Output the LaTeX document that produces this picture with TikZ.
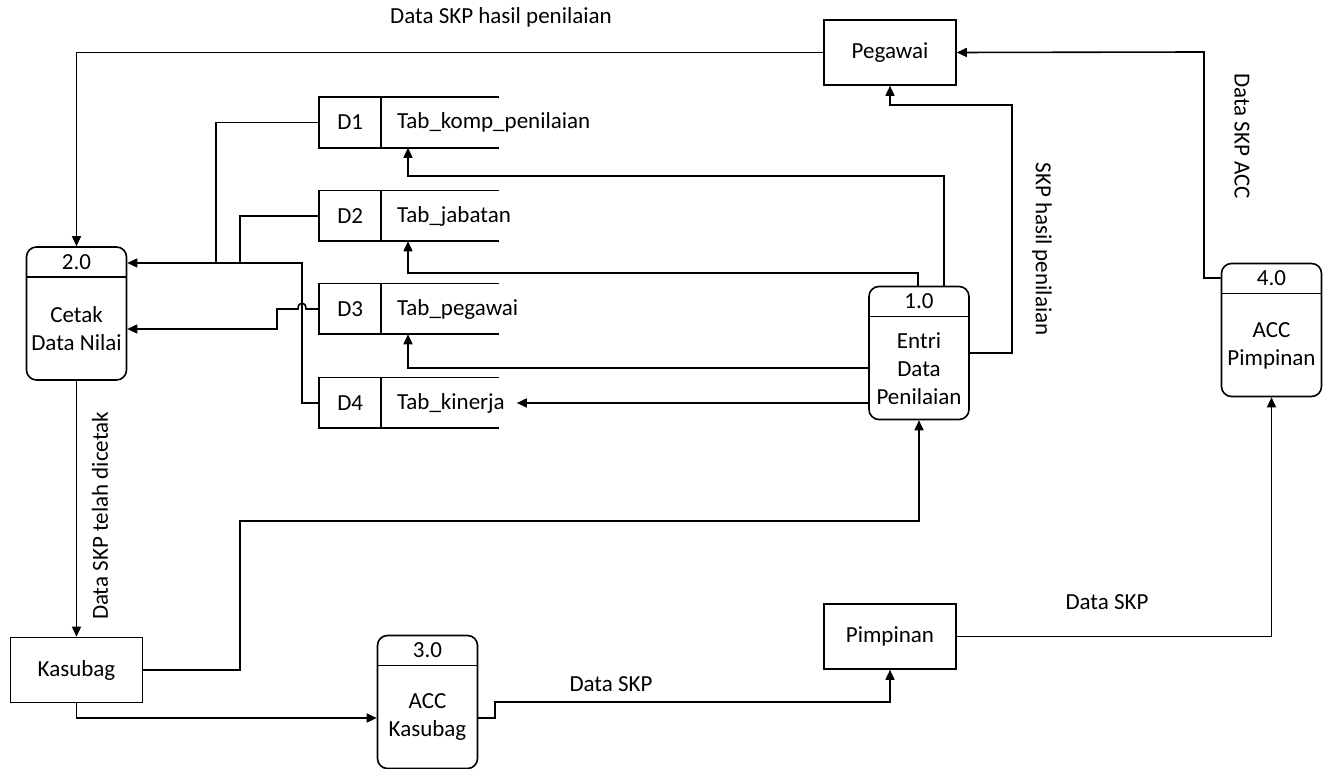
\documentclass[tikz,border=0pt]{standalone}
\usepackage{fontspec}
\setmainfont{Carlito}
\usetikzlibrary{calc, arrows.meta}

% process: name, centre, number, text
\newcommand{\dfdproc}[4]{%
  \node[proc] (#1) at (#2) {};
  \draw ([yshift=-15.5pt]#1.north west) -- ([yshift=-15.5pt]#1.north east);
  \node (#1id) at ([yshift=-7.75pt]#1.north) {#3};
  \node[align=center] (#1txt) at ([yshift=-7.75pt]#1.center) {#4};
}
% data store: name, y, id, table
\newcommand{\dfdstore}[4]{%
  \node[store] (#1) at (409,#2) {};
  \draw (#1.north east) -- (#1.north west) -- (#1.south west) -- (#1.south east);
  \draw ([xshift=31pt]#1.north west) -- ([xshift=31pt]#1.south west);
  \node (#1id) at ([xshift=15.5pt]#1.west) {#3};
  \node[anchor=west, inner sep=0pt] (#1txt) at ([xshift=38.5pt]#1.west) {#4};
}

\begin{document}
\begin{tikzpicture}[x=0.5pt, y=-0.5pt, font=\fontsize{11.5}{14}\selectfont,
    line width=0.8pt,
    entity/.style={draw, minimum width=66pt, minimum height=32.5pt, inner sep=0pt},
    proc/.style={draw, rounded corners=5pt, minimum width=50pt, minimum height=66.5pt, inner sep=0pt},
    store/.style={minimum width=89pt, minimum height=24.5pt, inner sep=0pt},
    flow/.style={-{Triangle[length=5pt, width=4.5pt]}},
    lbl/.style={inner sep=0pt}]

    \useasboundingbox (0,0) rectangle (1330,769);

    % External entities
    \node[entity] (peg) at (890,52.5) {Pegawai};
    \node[entity] (kasubag) at (76.5,670) {Kasubag};
    \node[entity] (pimp) at (890,636.5) {Pimpinan};

    % Processes
    \dfdproc{p1}{919,353}{1.0}{Entri\\Data\\Penilaian}
    \dfdproc{p2}{76.5,313.5}{2.0}{Cetak\\Data Nilai}
    \dfdproc{p3}{427.5,702}{3.0}{ACC\\Kasubag}
    \dfdproc{p4}{1271.5,330}{4.0}{ACC\\Pimpinan}

    % Data stores
    \dfdstore{d1}{122.5}{D1}{Tab\_komp\_penilaian}
    \dfdstore{d2}{216}{D2}{Tab\_jabatan}
    \dfdstore{d3}{309}{D3}{Tab\_pegawai}
    \dfdstore{d4}{403}{D4}{Tab\_kinerja}

    % Flows into 2.0
    \draw[flow] (peg.west) -| (p2.north);
    \draw (d1.west) -| (216,263);
    \draw (d2.west) -| (240,263);
    \draw[flow] (d4.west) -| (302,263) -- (p2.east |- 0,263);
    \draw[flow] (d3.west) -- (306,309) .. controls (306,301) and (298,301) .. (298,309)
        -- (277,309) |- (p2.east |- 0,329);

    % Flows out of 1.0
    \draw[flow] (p1.north -| 944,0) |- (408,176) -- (408,0 |- d1.south);
    \draw[flow] (p1.north -| 918,0) |- (408,273) -- (408,0 |- d2.south);
    \draw[flow] (p1.west |- 0,368) -| (408,0 |- d3.south);
    \draw[flow] (p1.west |- 0,403) -- ([xshift=9pt]d4.east);
    \draw[flow] (p1.east) -| (1012,105) -| (peg.south);

    % Kasubag and Pimpinan
    \draw[flow] (p2.south) -- (kasubag.north);
    \draw[flow] (kasubag.east) -| (240,521) -| (p1.south);
    \draw[flow] (kasubag.south) |- (p3.west |- 0,718);
    \draw[flow] (p3.east |- 0,718) -| (495,702) -| (pimp.south);
    \draw[flow] (pimp.east) -| (p4.south);
    \draw[flow] (p4.west |- 0,278) -| (1204,52) -- (peg.east);

    % Flow labels
    \node[lbl] (lblA) at (501,17) {Data SKP hasil penilaian};
    \node[lbl, rotate=-90] (lblB) at (1042,249) {SKP hasil penilaian};
    \node[lbl, rotate=-90] (lblC) at (1242,136) {Data SKP ACC};
    \node[lbl, rotate=90] (lblD) at (100,516) {Data SKP telah dicetak};
    \node[lbl] (lblE) at (611,684) {Data SKP};
    \node[lbl] (lblF) at (1107,602) {Data SKP};

\end{tikzpicture}
\end{document}
